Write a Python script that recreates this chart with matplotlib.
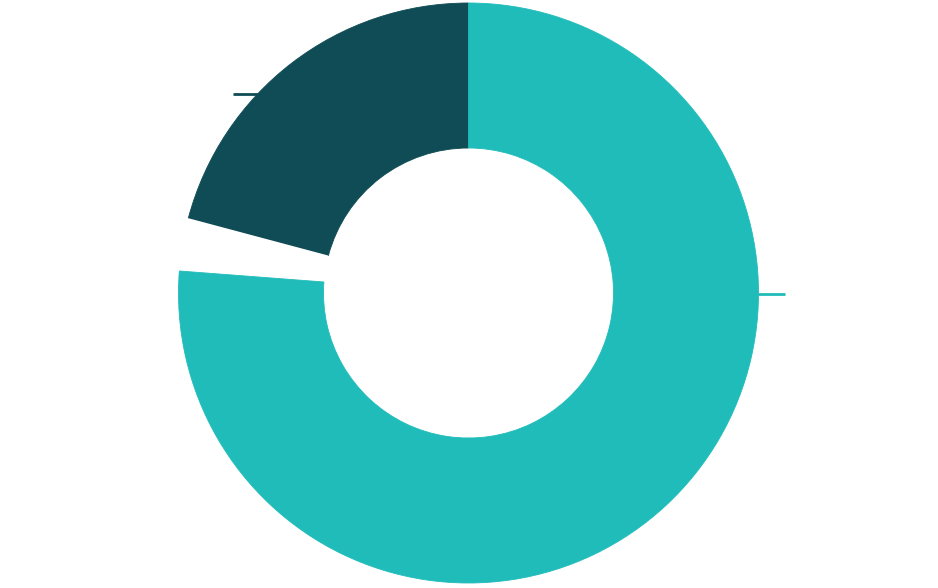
import matplotlib
matplotlib.use("Agg")
import matplotlib.pyplot as plt

categories = ["Dark", "Gap", "Teal"]
values = [20.85, 2.94, 76.21]
colors = ["#0F4C55", "#FFFFFF", "#20BCBA"]

fig = plt.figure(figsize=(9.38, 5.88), dpi=100)
ax = fig.add_axes([0, 0, 1, 1])
wedges, _ = ax.pie(values, colors=colors, startangle=90, counterclock=True,
                   center=(468.5, 295), radius=290,
                   wedgeprops=dict(width=145, linewidth=0))
for w, c in zip(wedges, colors):
    if c != "#FFFFFF":
        w.set_edgecolor(c)
        w.set_linewidth(0.6)
ax.set_xlim(0, 938)
ax.set_ylim(0, 588)
ax.set_aspect("equal")
ax.axis("off")

# label leader stubs
ax.plot([233, 259], [494, 494], color="#0F4C55", lw=2, solid_capstyle="butt")
ax.plot([758, 785], [294, 294], color="#20BCBA", lw=2, solid_capstyle="butt")

fig.savefig("out.png", dpi=100, facecolor="white")
